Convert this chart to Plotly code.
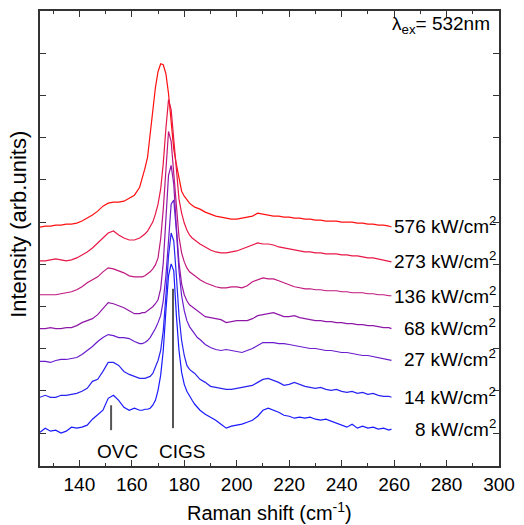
import plotly.graph_objects as go

# Raman shift grid (cm^-1)
shift = [125, 127, 129, 131, 133, 135, 137, 139, 141, 143, 145, 147, 149, 151, 153, 155, 157, 159, 161, 163,
         164, 165, 166, 167, 168, 169, 170, 171, 172, 173, 174, 175, 176, 177, 178, 179, 180, 181, 182, 183, 184, 185, 186,
         188, 190, 192, 194, 196, 198, 200, 202, 204, 206, 208, 210, 212, 214, 216, 218, 220, 222, 224, 226, 228, 230,
         232, 234, 236, 238, 240, 242, 244, 246, 248, 250, 252, 254, 256, 258, 259]

# Offset spectra (arb. units)
p576 = [240, 241, 241, 242, 242, 243, 243, 244, 246, 249, 252, 256, 261, 264, 265, 265, 266, 269, 272, 280,
        289, 299, 310, 333, 356, 380, 396, 404, 403, 394, 374, 344, 318, 303, 288, 276, 271, 267, 264, 262, 260, 259, 258,
        255, 253, 251, 250, 249, 248, 248, 249, 250, 251, 254, 253, 252, 251, 251, 250, 250, 249, 249, 248, 248, 247,
        247, 246, 246, 246, 245, 245, 245, 244, 244, 243, 243, 242, 242, 241, 240]
p273 = [206, 206, 207, 208, 207, 206, 207, 209, 212, 215, 219, 224, 230, 234, 236, 232, 229, 227, 227, 229,
        231, 233, 236, 240, 245, 253, 263, 278, 304, 339, 368, 358, 328, 294, 268, 254, 244, 237, 232, 229, 227, 225, 223,
        220, 217, 215, 214, 214, 215, 216, 218, 220, 222, 224, 223, 223, 222, 220, 219, 218, 217, 216, 215, 215, 214,
        214, 213, 213, 213, 212, 212, 211, 211, 210, 209, 209, 208, 207, 206, 205]
p136 = [172, 172, 172, 172, 173, 174, 175, 177, 180, 184, 187, 190, 195, 199, 198, 196, 194, 191, 190, 190,
        190, 191, 193, 195, 198, 202, 209, 228, 258, 296, 336, 326, 296, 258, 230, 214, 205, 199, 195, 193, 191, 189, 187,
        184, 182, 180, 179, 179, 180, 180, 179, 181, 185, 187, 189, 188, 188, 186, 184, 182, 180, 179, 178, 178, 177,
        177, 176, 176, 176, 175, 175, 174, 174, 174, 173, 173, 172, 172, 171, 171]
p68 = [138, 138, 139, 138, 138, 139, 139, 141, 144, 146, 148, 152, 158, 164, 163, 161, 159, 156, 153, 153,
       154, 154, 156, 158, 160, 163, 167, 178, 204, 248, 292, 302, 283, 240, 204, 183, 172, 166, 162, 160, 158, 156, 154,
       150, 149, 148, 147, 144, 145, 146, 146, 146, 148, 151, 152, 153, 154, 152, 150, 150, 151, 149, 148, 147, 146,
       146, 145, 145, 144, 144, 143, 143, 142, 142, 141, 141, 140, 139, 139, 138]
p27 = [105, 105, 104, 106, 107, 107, 108, 109, 112, 116, 120, 125, 129, 132, 131, 129, 129, 128, 125, 123,
       123, 124, 126, 129, 133, 138, 144, 151, 166, 191, 226, 263, 267, 236, 196, 171, 156, 146, 140, 136, 132, 129, 127,
       122, 119, 117, 116, 117, 116, 115, 114, 116, 118, 121, 124, 124, 124, 123, 123, 122, 121, 120, 119, 118, 118,
       117, 116, 116, 115, 114, 114, 113, 112, 111, 111, 110, 109, 108, 107, 106]
p14 = [69, 71, 69, 69, 71, 71, 72, 73, 75, 78, 85, 87, 95, 104, 104, 101, 95, 92, 90, 88,
       88, 88, 89, 90, 93, 100, 106, 116, 136, 171, 211, 234, 226, 191, 151, 126, 111, 101, 97, 95, 93, 90, 87,
       84, 80, 79, 78, 77, 77, 78, 79, 80, 81, 84, 87, 88, 86, 84, 81, 82, 84, 82, 80, 79, 78,
       79, 77, 76, 77, 75, 74, 75, 73, 74, 72, 73, 71, 70, 70, 69]
p8 = [34, 38, 35, 36, 33, 35, 39, 38, 39, 41, 47, 52, 56, 68, 71, 66, 59, 56, 58, 56,
      56, 57, 57, 58, 61, 66, 76, 91, 116, 156, 191, 203, 196, 151, 116, 94, 82, 75, 70, 66, 62, 59, 56,
      52, 49, 46, 42, 38, 40, 41, 42, 44, 46, 50, 56, 58, 56, 54, 51, 50, 48, 49, 48, 49, 47,
      46, 47, 45, 43, 41, 39, 42, 38, 40, 38, 39, 37, 38, 36, 37]

series = [p576, p273, p136, p68, p27, p14, p8]
labels = ["576 kW/cm<sup>2</sup>", "273 kW/cm<sup>2</sup>", "136 kW/cm<sup>2</sup>", "68 kW/cm<sup>2</sup>",
          "27 kW/cm<sup>2</sup>", "14 kW/cm<sup>2</sup>", "8 kW/cm<sup>2</sup>"]
label_levels = [242, 207, 172, 140, 108, 70, 38]
colors = ["#ff1010", "#e81846", "#c0187e", "#9018a8", "#6a1ccc", "#2a24f0", "#1a1aff"]

# Mode markers
mode_names = ["OVC", "CIGS"]
mode_pos = [152.1, 175.7]
mode_text_pos = [154.4, 179.3]
mode_line_low = [36, 38]
mode_line_high = [61, 178]
mode_text_level = 15

FONT = "Arial, 'Liberation Sans', Helvetica, sans-serif"

fig = go.Figure()
for vals, col in zip(series, colors):
    fig.add_trace(go.Scatter(x=shift, y=vals, mode="lines",
                             line=dict(color=col, width=1.2), showlegend=False, hoverinfo="skip"))

for pos, lo, hi in zip(mode_pos, mode_line_low, mode_line_high):
    fig.add_trace(go.Scatter(x=[pos, pos], y=[lo, hi], mode="lines",
                             line=dict(color="#555555", width=2), showlegend=False, hoverinfo="skip"))

annotations = []
for txt, lv in zip(labels, label_levels):
    annotations.append(dict(x=299.5, y=lv, xref="x", yref="y", text=txt, showarrow=False,
                            xanchor="right", yanchor="middle", font=dict(size=19, color="black", family=FONT)))
for name, pos in zip(mode_names, mode_text_pos):
    annotations.append(dict(x=pos, y=mode_text_level, xref="x", yref="y",
                            text=name, showarrow=False, xanchor="center", yanchor="middle",
                            font=dict(size=19, color="black", family=FONT)))
annotations.append(dict(x=297.5, y=443, xref="x", yref="y", text="λ<sub>ex</sub>= 532nm", showarrow=False,
                        xanchor="right", yanchor="middle", font=dict(size=19, color="black", family=FONT)))
# axis titles
annotations.append(dict(x=0.5, y=0, xref="paper", yref="paper", text="Raman shift (cm<sup>-1</sup>)",
                        showarrow=False, xanchor="center", yanchor="middle", yshift=-45,
                        font=dict(size=20, color="black", family=FONT)))
annotations.append(dict(x=0, y=0.53, xref="paper", yref="paper", text="Intensity (arb.units)",
                        showarrow=False, xanchor="center", yanchor="middle", xshift=-21, textangle=-90,
                        font=dict(size=22, color="black", family=FONT)))

fig.update_layout(
    width=524, height=525,
    margin=dict(l=40, r=19, t=9, b=59),
    paper_bgcolor="white", plot_bgcolor="white",
    font=dict(family=FONT, size=19, color="black"),
    annotations=annotations,
    xaxis=dict(range=[125, 300], tickvals=[140, 160, 180, 200, 220, 240, 260, 280, 300],
               ticks="inside", ticklen=6, tickwidth=1.2, tickcolor="#333",
               minor=dict(ticks="inside", ticklen=3, tickwidth=1.2, tickcolor="#333", dtick=10, tick0=0),
               showline=True, linecolor="#333", linewidth=1.5, mirror="ticks",
               showgrid=False, zeroline=False, tickfont=dict(size=19), ticklabelstandoff=0),
    yaxis=dict(range=[0, 457], tick0=33, dtick=42.4, ticks="inside", ticklen=6, tickwidth=1.2, tickcolor="#333",
               showticklabels=False, showline=True, linecolor="#333", linewidth=1.5, mirror="ticks",
               showgrid=False, zeroline=False),
)

fig.write_html("out.html")
